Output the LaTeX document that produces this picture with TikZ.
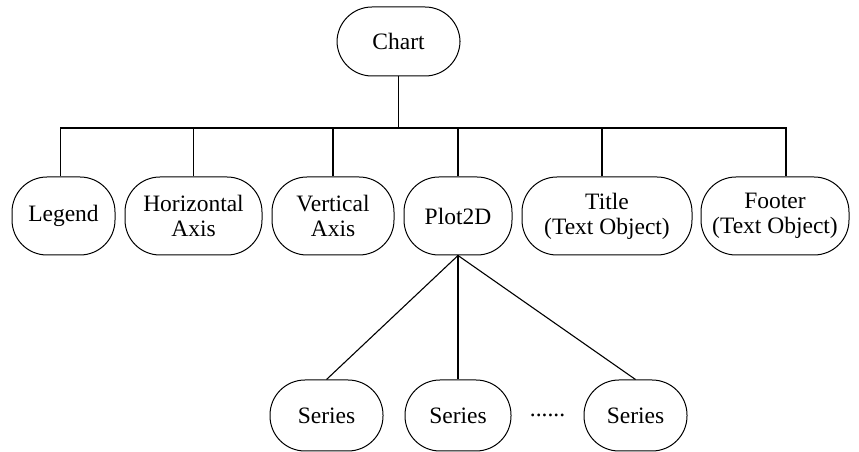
\documentclass[tikz,border=0pt]{standalone}
\usepackage{fontspec}
\setmainfont{Liberation Serif}
\usetikzlibrary{positioning,calc}

\begin{document}
\begin{tikzpicture}[x=1pt, y=1pt, node distance={9pt},
	main/.style = {draw, line width=1pt, rounded corners=35pt, align=center, minimum height=78pt, inner sep=2pt, font=\fontsize{23.5}{25}\selectfont},
	tree/.style = {line width=1.8pt},
	leaf/.style = {line width=1.1pt}]
		\useasboundingbox (0,0) rectangle (859,452);
		\node[main, minimum width=123pt, minimum height=69pt] (chart) at (398.5,410.5) {Chart};
		\node[main, minimum width=103pt] (legend) at (63.5,236) {Legend};
		\node[main, minimum width=137pt] (haxis) [right=of legend] {Horizontal\\Axis};
		\node[main, minimum width=122pt] (vaxis) [right=of haxis] {Vertical\\Axis};
		\node[main, minimum width=108pt] (plot) [right=of vaxis] {Plot2D};
		\node[main, minimum width=170pt] (title) [right=of plot] {Title\\(Text Object)};
		\node[main, minimum width=148pt] (footer) [right=8pt of title] {Footer\\(Text Object)};
		\node[main, minimum width=106pt, minimum height=71pt] (series2) [below=124pt of plot] {Series};
		\node[main, minimum width=113pt, minimum height=71pt] (series1) [left=21pt of series2] {Series};
		\node[main, minimum width=103pt, minimum height=71pt] (series3) [right=72pt of series2] {Series};
		\node[font=\fontsize{23.5}{25}\selectfont] (dots) at ($(series2.east)!0.5!(series3.west)$) {......};
		\coordinate (bus) at (0,324);
		\draw[tree] (chart.south) -- (chart.south |- bus);
		\draw[tree] ([xshift=-3pt]legend.north) -- ([xshift=-3pt]legend.north |- bus) -| ([xshift=11pt]footer.north);
		\draw[tree] (haxis.north) -- (haxis.north |- bus);
		\draw[tree] (vaxis.north) -- (vaxis.north |- bus);
		\draw[tree] (plot.north) -- (plot.north |- bus);
		\draw[tree] ([xshift=-5pt]title.north) -- ([xshift=-5pt]title.north |- bus);
		\draw[leaf] (plot.south) -- (series1.north);
		\draw[tree] (plot.south) -- (series2.north);
		\draw[leaf] (plot.south) -- (series3.north);
	\end{tikzpicture}
\end{document}
